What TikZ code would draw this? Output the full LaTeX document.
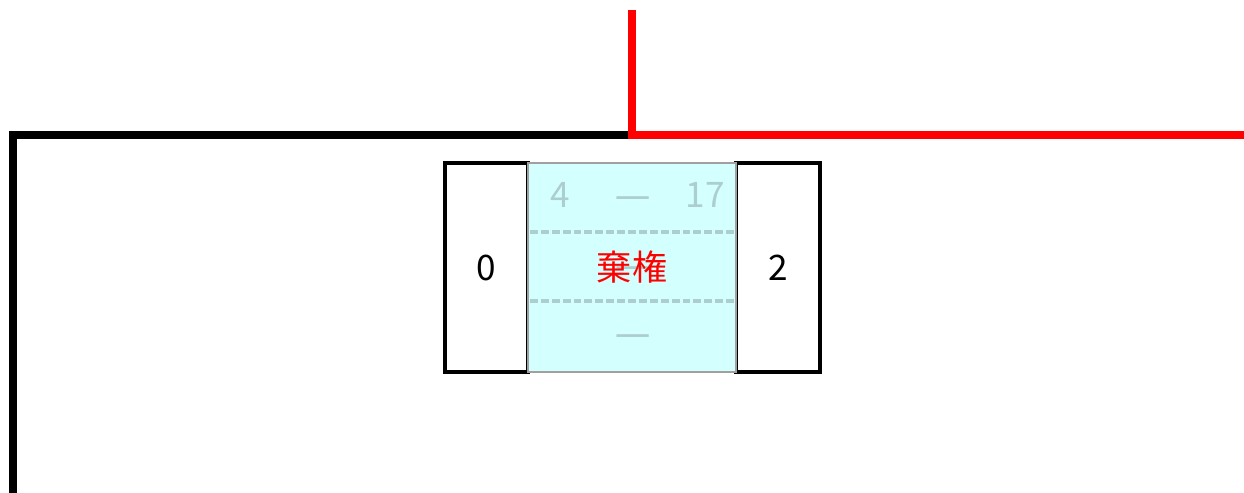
\documentclass[tikz,border=0pt]{standalone}
\usepackage{fontspec}
\setmainfont{Noto Sans CJK JP}
\newfontfamily\latinfont{Noto Sans}
\usetikzlibrary{positioning}
\definecolor{cellfill}{RGB}{212,255,255}
\definecolor{cellgray}{RGB}{160,160,160}
\definecolor{faint}{RGB}{172,206,206}

\begin{document}
\begin{tikzpicture}[x=0.02cm,y=-0.02cm,thick,
    side cell/.style={draw,line width=1.8pt,minimum height=4.18cm,inner sep=0pt,outer sep=0pt,font=\fontsize{20}{24}\selectfont},
    mid cell/.style={draw=cellgray,fill=cellfill,line width=1.3pt,minimum width=4.16cm,minimum height=4.18cm,inner sep=0pt,outer sep=0pt},
    faint text/.style={text=faint,font=\fontsize{20}{24}\selectfont},
    faint dash/.style={text=faint,font=\latinfont\fontsize{20}{24}\selectfont},
    bracket/.style={line width=4.5pt}]

                \useasboundingbox (0,0) rectangle (1244,493);

                \coordinate (bottom) at (13,493);
                \coordinate (corner) at (13,135);
                \coordinate (join) at (632,135);
                \coordinate (top) at (632,10);
                \coordinate (end) at (1244,135);

                \draw[bracket] (bottom) -- (corner) -- (join);
                \draw[bracket,red] (top) -- (join) -- (end);

                \node[mid cell] (mid) at (632,267.5) {};
                \node[side cell,minimum width=1.66cm] (zero) [left=0pt of mid] {0};
                \node[side cell,minimum width=1.68cm] (two) [right=0pt of mid] {2};
                \node[mid cell] at (mid) {};

                \coordinate (dash1 west) at (530,232);
                \coordinate (dash1 east) at (734,232);
                \coordinate (dash2 west) at (530,301);
                \coordinate (dash2 east) at (734,301);
                \draw[faint,line width=1.8pt,dash pattern=on 4.5pt off 1.7pt] (dash1 west) -- (dash1 east);
                \draw[faint,line width=1.8pt,dash pattern=on 4.5pt off 1.7pt] (dash2 west) -- (dash2 east);

                \node[faint text] (low) at (560,195) {4};
                \node[faint dash] (dash) at (633,202) {—};
                \node[faint text] (high) at (705,195) {17};
                \node[faint dash] (behind) at (633,272) {—};
                \node[text=red,font=\fontsize{20}{24}\selectfont] (abst) at (632,267) {棄権};
                \node[faint dash] (none) at (633,340) {—};

                ;
            \end{tikzpicture}
\end{document}
